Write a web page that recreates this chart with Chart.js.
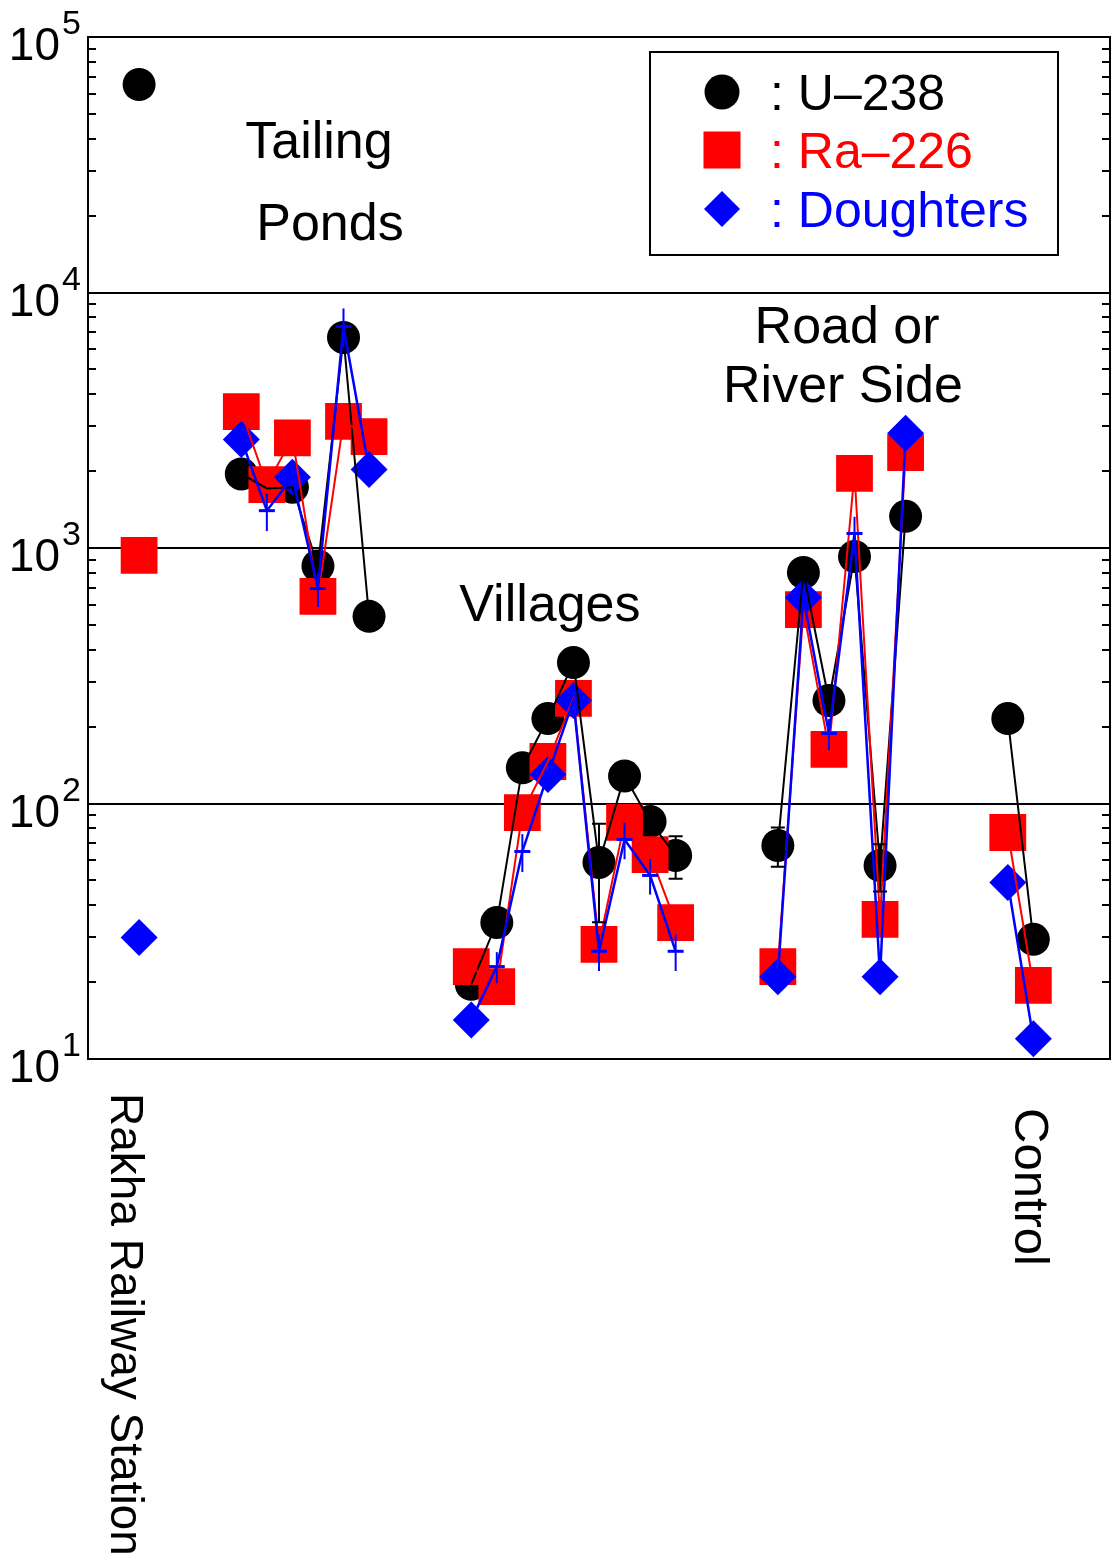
<!DOCTYPE html>
<html>
<head>
<meta charset="utf-8">
<title>U-238, Ra-226 and daughters by site</title>
<script src="https://cdn.jsdelivr.net/npm/chart.js@4.4.1/dist/chart.umd.min.js"></script>
<style>
  html, body { margin: 0; padding: 0; background: #fff; overflow: hidden; }
  #activityChart { display: block; width: 1114px; height: 1561px; }
</style>
</head>
<body>
<canvas id="activityChart" width="1114" height="1561"></canvas>
<script>
// activity.js
// Log plot of U-238, Ra-226 and daughter activities at each sampling site.

// --- Data ---
var groups = ['Rakha Railway Station', 'Tailing Ponds', 'Villages', 'Road or River Side', 'Control'];

// slot of each sample along the x axis, and the group it belongs to
var sitePos   = [2, 6, 7, 8, 9, 10, 11, 15, 16, 17, 18, 19, 20, 21, 22, 23, 27, 28, 29, 30, 31, 32, 36, 37];
var siteGroup = [0, 1, 1, 1, 1, 1, 1, 2, 2, 2, 2, 2, 2, 2, 2, 2, 3, 3, 3, 3, 3, 3, 4, 4];

var u238       = [65200, 1950, 1710, 1730, 850, 6670, 540, 19.6, 34.2, 138, 215, 356, 58.8, 128, 85, 62.6, 68.5, 802, 253, 926, 57.2, 1330, 215, 29.4];
var u238Err    = [0, 0, 0, 0, 0, 0, 0, 0, 0, 0, 0, 0, 24.5, 0, 0, 11.8, 12, 0, 0, 0, 12, 0, 0, 0];
var u238Marker = [1, 1, 0, 1, 1, 1, 1, 1, 1, 1, 1, 1, 1, 1, 1, 1, 1, 1, 1, 1, 1, 1, 1, 1];

var ra226 = [935, 3420, 1770, 2700, 646, 3130, 2730, 23.0, 19.2, 92.2, 146, 258, 28.1, 84.3, 63.1, 34.2, 23.0, 574, 163, 1960, 35.2, 2360, 77.0, 19.4];

var daughters       = [29.9, 2660, 1400, 1890, 694, 7360, 2030, 14.2, 23.0, 64.9, 130, 253, 26.4, 72.3, 52.3, 26.4, 21.0, 640, 188, 1140, 21.0, 2810, 49.1, 12.0];
var daughtersErr    = [0, 0, 235, 0, 106, 1300, 0, 0, 3.2, 11, 0, 0, 4.3, 11.8, 8.3, 4.3, 0, 0, 26, 185, 0, 0, 0, 0];
var daughtersMarker = [1, 1, 0, 1, 0, 0, 1, 1, 0, 0, 1, 1, 0, 0, 0, 0, 1, 1, 0, 0, 1, 1, 1, 1];

var seriesNames = ['U\u2013238', 'Ra\u2013226', 'Doughters'];

// y axis decades and their exponent labels
var yTicks   = [10, 100, 1000, 10000, 100000];
var yTickExp = ['1', '2', '3', '4', '5'];

// --- Styling ---
var FONT = '"Liberation Sans", Arial, Helvetica, sans-serif';
var BLACK = '#000000', RED = '#ff0000', BLUE = '#0000ff';

// text placed in data coordinates (x slot, y value)
var notes = [
    { text: 'Tailing',    x: 9.04,  y: 33700 },
    { text: 'Ponds',      x: 9.47,  y: 15980 },
    { text: 'Villages',   x: 18.08, y: 520 },
    { text: 'Road or',    x: 29.71, y: 6370 },
    { text: 'River Side', x: 29.55, y: 3740 }
];
// rotated labels under the axis: x slot of the baseline, px below the axis, font size
var sideLabels = [
    { text: groups[0], x: 0.9,   drop: 34, size: 46 },
    { text: groups[4], x: 36.28, drop: 49, size: 49 }
];

// build {x,y} points; a null point between groups breaks the line
function linePoints(values) {
    var pts = [];
    for (var i = 0; i < sitePos.length; i++) {
        if (i > 0 && siteGroup[i] !== siteGroup[i - 1]) {
            pts.push({ x: (sitePos[i] + sitePos[i - 1]) / 2, y: null });
        }
        pts.push({ x: sitePos[i], y: values[i] });
    }
    return pts;
}
function markerPoints(values) {
    return sitePos.map(function(p, i) { return { x: p, y: values[i] }; });
}
function radii(flags, r) {
    return flags.map(function(f) { return f ? r : 0; });
}

function drawMarker(ctx, style, x, y, color) {
    ctx.fillStyle = color;
    ctx.beginPath();
    if (style === 'circle') {
        ctx.arc(x, y, 17.5, 0, Math.PI * 2);
    } else if (style === 'rect') {
        ctx.rect(x - 18.5, y - 18.5, 37, 37);
    } else {
        ctx.moveTo(x - 18, y); ctx.lineTo(x, y - 18); ctx.lineTo(x + 18, y); ctx.lineTo(x, y + 18);
        ctx.closePath();
    }
    ctx.fill();
}

// frame, grid, ticks, labels, error bars, legend
var decorPlugin = {
    id: 'decor',
    beforeDatasetsDraw: function(chart) {
        var ctx = chart.ctx, a = chart.chartArea, ys = chart.scales.y;
        ctx.save();
        ctx.strokeStyle = BLACK;
        ctx.lineWidth = 2;
        yTicks.forEach(function(v) {
            var py = Math.round(ys.getPixelForValue(v));
            ctx.beginPath(); ctx.moveTo(a.left, py); ctx.lineTo(a.right, py); ctx.stroke();
        });
        for (var d = 0; d < yTicks.length - 1; d++) {
            for (var k = 2; k < 10; k++) {
                var py = Math.round(ys.getPixelForValue(k * yTicks[d]));
                ctx.beginPath();
                ctx.moveTo(a.left, py); ctx.lineTo(a.left + 8, py);
                ctx.moveTo(a.right, py); ctx.lineTo(a.right - 8, py);
                ctx.stroke();
            }
        }
        // decade labels 10^n
        ctx.fillStyle = BLACK;
        ctx.textBaseline = 'alphabetic';
        yTicks.forEach(function(v, i) {
            var py = ys.getPixelForValue(v);
            ctx.font = '46px ' + FONT;
            ctx.textAlign = 'right';
            ctx.fillText('10', a.left - 28, py + 23);
            ctx.font = '34px ' + FONT;
            ctx.textAlign = 'left';
            ctx.fillText(yTickExp[i], a.left - 26, py - 3);
        });
        ctx.restore();
    },
    afterDatasetsDraw: function(chart) {
        var ctx = chart.ctx, a = chart.chartArea, xs = chart.scales.x, ys = chart.scales.y;
        ctx.save();

        // error bars on U-238 (capped)
        ctx.lineWidth = 2;
        ctx.strokeStyle = BLACK;
        u238Err.forEach(function(e, i) {
            if (!e) return;
            var px = xs.getPixelForValue(sitePos[i]);
            var hi = ys.getPixelForValue(u238[i] + e), lo = ys.getPixelForValue(u238[i] - e);
            ctx.beginPath();
            ctx.moveTo(px, hi); ctx.lineTo(px, lo);
            ctx.moveTo(px - 7, hi); ctx.lineTo(px + 7, hi);
            ctx.moveTo(px - 7, lo); ctx.lineTo(px + 7, lo);
            ctx.stroke();
        });
        // error bars on daughters (cross at the value)
        ctx.strokeStyle = BLUE;
        daughtersErr.forEach(function(e, i) {
            if (!e) return;
            var px = xs.getPixelForValue(sitePos[i]);
            var py = ys.getPixelForValue(daughters[i]);
            var hi = ys.getPixelForValue(daughters[i] + e), lo = ys.getPixelForValue(daughters[i] - e);
            ctx.lineWidth = 2;
            ctx.beginPath(); ctx.moveTo(px, hi); ctx.lineTo(px, lo); ctx.stroke();
            ctx.lineWidth = 3;
            ctx.beginPath(); ctx.moveTo(px - 8, py); ctx.lineTo(px + 8, py); ctx.stroke();
        });

        // plot frame
        ctx.strokeStyle = BLACK;
        ctx.lineWidth = 2;
        ctx.strokeRect(a.left, a.top, a.right - a.left, a.bottom - a.top);

        // group names inside the plot
        ctx.fillStyle = BLACK;
        ctx.font = '52px ' + FONT;
        ctx.textAlign = 'center';
        ctx.textBaseline = 'alphabetic';
        notes.forEach(function(n) {
            ctx.fillText(n.text, xs.getPixelForValue(n.x), ys.getPixelForValue(n.y));
        });

        // rotated names under the axis
        ctx.textAlign = 'left';
        sideLabels.forEach(function(l) {
            ctx.save();
            ctx.translate(xs.getPixelForValue(l.x), a.bottom + l.drop);
            ctx.rotate(Math.PI / 2);
            ctx.font = l.size + 'px ' + FONT;
            ctx.fillText(l.text, 0, 0);
            ctx.restore();
        });

        // legend box
        var lx = 650, ly = 52, lw = 408, lh = 203;
        ctx.fillStyle = '#fff';
        ctx.fillRect(lx, ly, lw, lh);
        ctx.lineWidth = 2;
        ctx.strokeRect(lx, ly, lw, lh);
        var styles = ['circle', 'rect', 'rectRot'], colors = [BLACK, RED, BLUE], rows = [110, 168, 227];
        ctx.font = '50px ' + FONT;
        ctx.textAlign = 'left';
        for (var r = 0; r < 3; r++) {
            drawMarker(ctx, styles[r], 722, rows[r] - 18, colors[r]);
            ctx.fillStyle = colors[r];
            ctx.fillText(': ' + seriesNames[r], 770, rows[r]);
        }
        ctx.restore();
    }
};

document.addEventListener('DOMContentLoaded', function() {
    var ctx = document.getElementById('activityChart');

    var chart = new Chart(ctx, {
        type: 'line',
        data: {
            datasets: [
                // lines first in the list so they sit on top of every marker
                { label: seriesNames[2] + ' line', data: linePoints(daughters), borderColor: BLUE, borderWidth: 2.5, pointRadius: 0, tension: 0, fill: false },
                { label: seriesNames[1] + ' line', data: linePoints(ra226), borderColor: RED, borderWidth: 2, pointRadius: 0, tension: 0, fill: false },
                { label: seriesNames[0] + ' line', data: linePoints(u238), borderColor: BLACK, borderWidth: 2, pointRadius: 0, tension: 0, fill: false },
                { label: seriesNames[2], data: markerPoints(daughters), showLine: false, pointStyle: 'rectRot', pointRadius: radii(daughtersMarker, 18.5), pointBackgroundColor: BLUE, pointBorderWidth: 0 },
                { label: seriesNames[1], data: markerPoints(ra226), showLine: false, pointStyle: 'rect', pointRadius: 26, pointBackgroundColor: RED, pointBorderWidth: 0 },
                { label: seriesNames[0], data: markerPoints(u238), showLine: false, pointStyle: 'circle', pointRadius: radii(u238Marker, 16.5), pointBackgroundColor: BLACK, pointBorderWidth: 0 }
            ]
        },
        options: {
            responsive: false,
            animation: false,
            events: [],
            layout: { autoPadding: false, padding: { left: 88, top: 37, right: 4, bottom: 502 } },
            plugins: {
                legend: { display: false },
                tooltip: { enabled: false }
            },
            scales: {
                x: { type: 'linear', min: 0, max: 40, display: false },
                y: { type: 'logarithmic', min: 10, max: 100000, display: false }
            }
        },
        plugins: [decorPlugin]
    });
});
</script>
</body>
</html>
